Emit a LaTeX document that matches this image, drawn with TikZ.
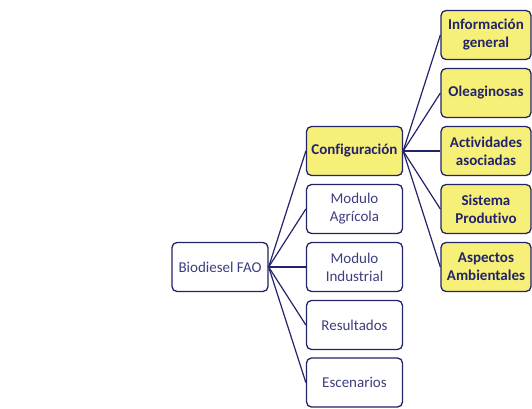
\documentclass[tikz,border=0pt]{standalone}
\usepackage{fontspec}
\setmainfont{Carlito}[Ligatures=NoCommon]
\usepackage{xcolor}
\usetikzlibrary{
    positioning
}
\definecolor{faonavy}{HTML}{23236A}
\definecolor{faotext}{HTML}{3E3E80}
\definecolor{faoyellow}{HTML}{F6EF78}
\tikzset{modbox/.style={draw=faonavy, line width=1.3pt, rounded corners=5pt, fill=white, minimum width=96pt, minimum height=49pt, inner sep=2pt, align=center, text=faotext, font=\fontsize{15}{18}\selectfont}}
\tikzset{cfgbox/.style={modbox, fill=faoyellow, minimum width=90pt, text=faonavy, font=\bfseries\fontsize{15}{18}\selectfont}}
\tikzset{link/.style={draw=faonavy, line width=1.2pt}}

\begin{document}
\begin{tikzpicture}[x=1pt, y=1pt]
                        \useasboundingbox (0, 0) rectangle (532, 408);
                        \node[modbox] (root) at (220, 141) {Biodiesel FAO};

                        \node[modbox, cfgbox, minimum width=96pt] (conf) at (354.5, 257) {Configuración};
                        \node[modbox] (agri) at (354.5, 199) {Modulo\\Agrícola};
                        \node[modbox] (indu) at (354.5, 141) {Modulo\\Industrial};
                        \node[modbox] (resu) at (354.5, 83) {Resultados};
                        \node[modbox] (esce) at (354.5, 25.5) {Escenarios};

                        \node[cfgbox] (info) at (486, 373) {Información\\general};
                        \node[cfgbox] (olea) at (486, 315) {Oleaginosas};
                        \node[cfgbox] (acti) at (486, 257) {Actividades\\asociadas};
                        \node[cfgbox] (sist) at (486, 199) {Sistema\\Produtivo};
                        \node[cfgbox] (aspe) at (486, 141) {Aspectos\\Ambientales};

                        \draw[link]
                        (root.east) edge (conf.west)
                        (root.east) edge (agri.west)
                        (root.east) edge (indu.west)
                        (root.east) edge (resu.west)
                        (root.east) edge (esce.west);
                        \draw[link]
                        (conf.east) edge (info.west)
                        (conf.east) edge (olea.west)
                        (conf.east) edge (acti.west)
                        (conf.east) edge (sist.west)
                        (conf.east) edge (aspe.west);
                    \end{tikzpicture}
\end{document}
